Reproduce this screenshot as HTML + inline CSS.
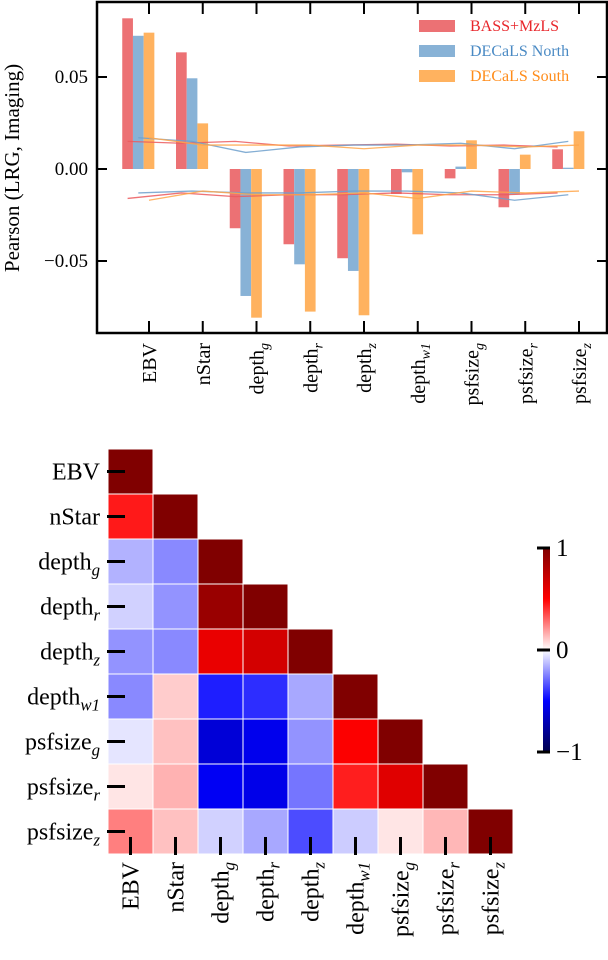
<!DOCTYPE html>
<html><head><meta charset="utf-8"><style>
body{margin:0;background:#fff}
svg{display:block;font-family:"Liberation Serif",serif}
</style></head><body>
<svg id="fig" width="608" height="960" viewBox="0 0 608 960" xmlns="http://www.w3.org/2000/svg">
<g id="topChart"></g>
<g id="heat"></g>
</svg>
<script>
const categories = ["EBV","nStar","depth|g","depth|r","depth|z","depth|w1","psfsize|g","psfsize|r","psfsize|z"];
const seriesNames = ["BASS+MzLS","DECaLS North","DECaLS South"];
const bassVals = [0.0819,0.0634,-0.0322,-0.0409,-0.0485,-0.0136,-0.0051,-0.0208,0.0107];
const northVals = [0.0724,0.0493,-0.069,-0.0518,-0.0554,-0.0018,0.0013,-0.0138,0.0007];
const southVals = [0.0741,0.0248,-0.0808,-0.0775,-0.0795,-0.0355,0.0156,0.0078,0.0205];
const bassUpper = [0.015,0.014,0.015,0.0125,0.013,0.0135,0.0125,0.013,0.012];
const bassLower = [-0.016,-0.013,-0.015,-0.014,-0.014,-0.013,-0.014,-0.014,-0.013];
const northUpper = [0.017,0.015,0.009,0.012,0.013,0.013,0.014,0.011,0.015];
const northLower = [-0.013,-0.012,-0.013,-0.013,-0.012,-0.012,-0.013,-0.017,-0.014];
const southUpper = [0.017,0.013,0.013,0.013,0.011,0.013,0.013,0.012,0.013];
const southLower = [-0.017,-0.012,-0.014,-0.014,-0.013,-0.016,-0.012,-0.013,-0.012];
const yTicks = [-0.05,0,0.05];
const yTickLabels = ["−0.05","0.00","0.05"];
const corrRows = [
 [1],
 [0.45,1],
 [-0.15,-0.23,1],
 [-0.09,-0.21,0.9,1],
 [-0.21,-0.23,0.58,0.67,1],
 [-0.23,0.1,-0.44,-0.41,-0.17,1],
 [-0.05,0.12,-0.61,-0.55,-0.21,0.51,1],
 [0.05,0.15,-0.53,-0.56,-0.27,0.44,0.62,1],
 [0.25,0.12,-0.09,-0.17,-0.35,-0.1,0.05,0.14,1]
];
const cbTicks = [1,0,-1];
const cbTickLabels = ["1","0","−1"];

const NS="http://www.w3.org/2000/svg";
function mk(tag,attrs,parent){const e=document.createElementNS(NS,tag);for(const k in attrs)e.setAttribute(k,attrs[k]);parent.appendChild(e);return e;}
function label(el,txt,size){const p=txt.split("|");el.appendChild(document.createTextNode(p[0]));if(p[1]){const t=document.createElementNS(NS,"tspan");t.setAttribute("font-size",size*0.7);t.setAttribute("font-style","italic");t.setAttribute("dy",size*0.25);t.textContent=p[1];el.appendChild(t);}}

// ---- bar chart ----
const topG=document.getElementById("topChart");
const X0=97,X1=607,Y0=2,Y1=333;
const yPx=v=>169-v/0.05*92;
const xTick=i=>149+i*53.75;
const bw=10.7;
const colors=["#ec7174","#88b2d6","#ffb25f"];
const lineColors=["#eb5a5e","#6fa0cc","#ffa64a"];
const vals=[bassVals,northVals,southVals];
const uppers=[bassUpper,northUpper,southUpper];
const lowers=[bassLower,northLower,southLower];
for(let s=0;s<3;s++){
 for(let i=0;i<categories.length;i++){
  const cx=xTick(i)+(s-2)*bw;const v=vals[s][i];
  const r=mk("rect",{x:cx-bw/2,y:Math.min(yPx(v),yPx(0)),width:bw,height:Math.abs(yPx(v)-yPx(0)),fill:colors[s]},topG);
  
  
 }
}
for(let s=0;s<3;s++){
 [uppers[s],lowers[s]].forEach((arr,k)=>{
  const pts=arr.map((v,i)=>(xTick(i)+(s-2)*bw)+","+yPx(v)).join(" ");
  const l=mk("polyline",{points:pts,fill:"none",stroke:lineColors[s],"stroke-width":1.3,opacity:0.85},topG);
  
  
 });
}
const frame=mk("rect",{x:X0,y:Y0,width:X1-X0,height:Y1-Y0,fill:"none",stroke:"#000","stroke-width":2.5},topG);


yTicks.forEach((v,i)=>{
 const y=yPx(v);
 mk("line",{x1:X0,x2:X0+10,y1:y,y2:y,stroke:"#000","stroke-width":2},topG);
 mk("line",{x1:X1-10,x2:X1,y1:y,y2:y,stroke:"#000","stroke-width":2},topG);
 const t=mk("text",{x:88,y:y+6,"text-anchor":"end","font-size":19},topG);
 
 
 t.textContent=yTickLabels[i];
});
categories.forEach((c,i)=>{
 const x=xTick(i);
 mk("line",{x1:x,x2:x,y1:Y0,y2:Y0+12,stroke:"#000","stroke-width":2},topG);
 mk("line",{x1:x,x2:x,y1:Y1-12,y2:Y1,stroke:"#000","stroke-width":2},topG);
 const t=mk("text",{transform:`translate(${x+7},343) rotate(-90)`,"text-anchor":"end","font-size":20},topG);
 
 
 label(t,c,20);
});
const yl=mk("text",{transform:"translate(19,168) rotate(-90)","text-anchor":"middle","font-size":21},topG);


yl.textContent="Pearson (LRG, Imaging)";
const legColors=["#e8262b","#4a8ac4","#ff8c1a"];
seriesNames.forEach((n,s)=>{
 const y=26+s*25;
 const r=mk("rect",{x:419,y:y-6,width:36,height:12,fill:colors[s]},topG);
 
 
 const t=mk("text",{x:470,y:y+5,"font-size":16,fill:legColors[s]},topG);
 
 
 t.textContent=n;
});

// ---- heatmap ----
const heat=document.getElementById("heat");
const HX=108,HY=449,C=45;
function seismic(v){
 let r,g,b;
 if(v>=0.5){const t=(v-0.5)/0.5;r=255-127*t;g=0;b=0;}
 else if(v>=0){const t=v/0.5;r=255;g=255*(1-t);b=255*(1-t);}
 else if(v>=-0.5){const t=-v/0.5;r=255*(1-t);g=255*(1-t);b=255;}
 else{const t=(-v-0.5)/0.5;r=0;g=0;b=255-178*t;}
 return `rgb(${r|0},${g|0},${b|0})`;
}
corrRows.forEach((row,i)=>{
 row.forEach((v,j)=>{
  const r=mk("rect",{x:HX+j*C+0.5,y:HY+i*C+0.5,width:C-1,height:C-1,fill:seismic(v)},heat);
  
  
 });
});
categories.forEach((c,i)=>{
 const y=HY+i*C+C/2;
 mk("line",{x1:HX-1,x2:HX+17,y1:y,y2:y,stroke:"#000","stroke-width":3},heat);
 const t=mk("text",{x:100,y:y+8,"text-anchor":"end","font-size":24},heat);
 
 
 label(t,c,24);
 const x=HX+i*C+C/2;
 mk("line",{x1:x,x2:x,y1:HY+9*C-17,y2:HY+9*C+1,stroke:"#000","stroke-width":3},heat);
 const t2=mk("text",{transform:`translate(${x+8},862) rotate(-90)`,"text-anchor":"end","font-size":24},heat);
 
 
 label(t2,c,24);
});
// colorbar
const defs=mk("defs",{},heat);
const grad=mk("linearGradient",{id:"cbg",x1:0,y1:0,x2:0,y2:1},defs);
for(let k=0;k<=20;k++){const v=1-k/10;mk("stop",{offset:(k/20),"stop-color":seismic(v)},grad);}
const CBT=548,CBB=752;
const cb=mk("rect",{x:543,y:CBT,width:7,height:CBB-CBT,fill:"url(#cbg)"},heat);


cbTicks.forEach((v,i)=>{
 const y=CBT+(1-v)/2*(CBB-CBT);
 mk("line",{x1:537,x2:550,y1:y,y2:y,stroke:"#000","stroke-width":3},heat);
 const t=mk("text",{x:556,y:y+8,"font-size":25},heat);
 
 
 t.textContent=cbTickLabels[i];
});
</script>
</body></html>
